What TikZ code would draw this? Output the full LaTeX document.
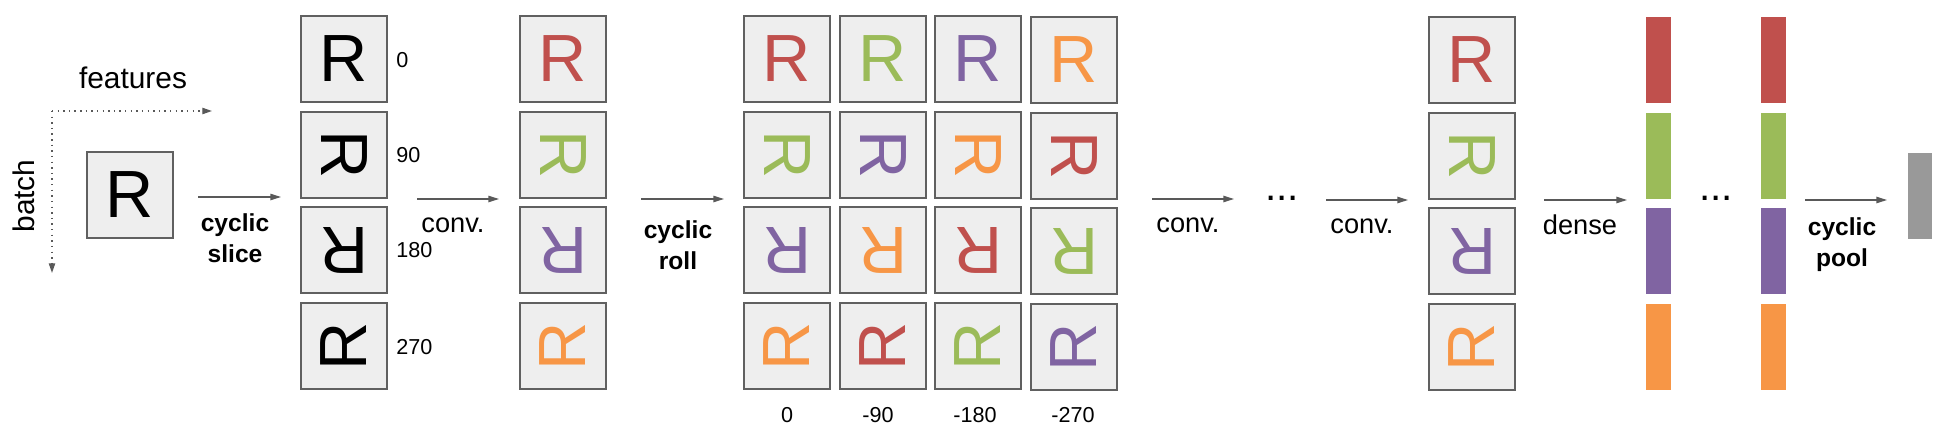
\documentclass[tikz,border=0pt]{standalone}
\usepackage{fontspec}
\setmainfont{Liberation Sans}
\usetikzlibrary{arrows.meta}

\definecolor{rred}{HTML}{C0504D}
\definecolor{rgreen}{HTML}{9BBB59}
\definecolor{rpurple}{HTML}{8064A2}
\definecolor{rorange}{HTML}{F79646}
\definecolor{tilefill}{HTML}{EEEEEE}
\definecolor{tileline}{HTML}{606060}
\definecolor{arrowgray}{HTML}{595959}
\definecolor{poolgray}{HTML}{999999}

\tikzset{
  tile/.style={draw=tileline, fill=tilefill, line width=0.75pt, minimum size=1.72cm, inner sep=0pt, font=\fontsize{38}{38}\selectfont},
  bar/.style={minimum width=0.5cm, minimum height=1.74cm, inner sep=0pt},
  flow/.style={draw=arrowgray, line width=0.7pt, -{Triangle[length=6pt,width=3.6pt]}},
  dimarrow/.style={draw=arrowgray, line width=0.75pt, dash pattern=on 0.8pt off 2.4pt, -{Triangle[length=5.5pt,width=3.6pt]}},
  lbl/.style={inner sep=0pt, font=\fontsize{15.5}{18}\selectfont},
  blbl/.style={inner sep=0pt, align=center, font=\fontsize{14}{18}\selectfont\bfseries},
  anglbl/.style={inner sep=0pt, font=\fontsize{12.3}{14}\selectfont},
}

\begin{document}
\begin{tikzpicture}[x=0.02cm, y=-0.02cm]
    \useasboundingbox (0,0) rectangle (1944,436);

    % input and its axes
    \coordinate (origin) at (52,111);
    \coordinate (featend) at (212,111);
    \coordinate (batchend) at (52,273);
    \draw[dimarrow] (origin) -- (featend);
    \draw[dimarrow] (origin) -- (batchend);
    \node[lbl, font=\fontsize{17}{18}\selectfont] (features) at (133,78) {features};
    \node[lbl, font=\fontsize{17}{18}\selectfont, rotate=90] (batch) at (24,196) {batch};
    \node[tile] (in) at (130,195) {R};

    % cyclic slice
    \node[tile] (s0) at (344,59) {R};
    \node[tile, rotate=-90] (s1) at (344,155) {R};
    \node[tile, rotate=180] (s2) at (344,250) {R};
    \node[tile, rotate=90] (s3) at (344,346) {R};
    \node[anglbl, anchor=west] (a0) at (396,60) {0};
    \node[anglbl, anchor=west] (a1) at (396,155) {90};
    \node[anglbl, anchor=west] (a2) at (396,250) {180};
    \node[anglbl, anchor=west] (a3) at (396,347) {270};

    % first conv.
    \node[tile, text=rred] (v0) at (563,59) {R};
    \node[tile, text=rgreen, rotate=-90] (v1) at (563,155) {R};
    \node[tile, text=rpurple, rotate=180] (v2) at (563,250) {R};
    \node[tile, text=rorange, rotate=90] (v3) at (563,346) {R};

    % cyclic roll
    \node[tile, text=rred] (g00) at (787,59) {R};
    \node[tile, text=rgreen, rotate=-90] (g10) at (787,155) {R};
    \node[tile, text=rpurple, rotate=180] (g20) at (787,250) {R};
    \node[tile, text=rorange, rotate=90] (g30) at (787,346) {R};

    \node[tile, text=rgreen] (g01) at (883,59) {R};
    \node[tile, text=rpurple, rotate=-90] (g11) at (883,155) {R};
    \node[tile, text=rorange, rotate=180] (g21) at (883,250) {R};
    \node[tile, text=rred, rotate=90] (g31) at (883,346) {R};

    \node[tile, text=rpurple] (g02) at (978,59) {R};
    \node[tile, text=rorange, rotate=-90] (g12) at (978,155) {R};
    \node[tile, text=rred, rotate=180] (g22) at (978,250) {R};
    \node[tile, text=rgreen, rotate=90] (g32) at (978,346) {R};

    \node[tile, text=rorange] (g03) at (1074,60) {R};
    \node[tile, text=rred, rotate=-90] (g13) at (1074,156) {R};
    \node[tile, text=rgreen, rotate=180] (g23) at (1074,251) {R};
    \node[tile, text=rpurple, rotate=90] (g33) at (1074,347) {R};

    \node[anglbl] (r0) at (787,415) {0};
    \node[anglbl] (r1) at (878,415) {-90};
    \node[anglbl] (r2) at (975,415) {-180};
    \node[anglbl] (r3) at (1073,415) {-270};

    % last conv.
    \node[tile, text=rred] (o0) at (1472,60) {R};
    \node[tile, text=rgreen, rotate=-90] (o1) at (1472,156) {R};
    \node[tile, text=rpurple, rotate=180] (o2) at (1472,251) {R};
    \node[tile, text=rorange, rotate=90] (o3) at (1472,347) {R};

    % dense
    \node[bar, fill=rred] (d0) at (1658,60) {};
    \node[bar, fill=rgreen] (d1) at (1658,156) {};
    \node[bar, fill=rpurple] (d2) at (1658,251) {};
    \node[bar, fill=rorange] (d3) at (1658,347) {};
    \node[bar, fill=rred] (e0) at (1773,60) {};
    \node[bar, fill=rgreen] (e1) at (1773,156) {};
    \node[bar, fill=rpurple] (e2) at (1773,251) {};
    \node[bar, fill=rorange] (e3) at (1773,347) {};

    % cyclic pool
    \node[bar, fill=poolgray, minimum width=0.48cm, minimum height=1.72cm] (pool) at (1920,196) {};

    \node[lbl, font=\fontsize{23}{24}\selectfont] (dotsA) at (1282,198) {...};
    \node[lbl, font=\fontsize{23}{24}\selectfont] (dotsB) at (1716,198) {...};

    % arrows
    \coordinate (sliceA) at (198,197);
    \coordinate (sliceB) at (281,197);
    \coordinate (convA) at (417,199);
    \coordinate (convB) at (499,199);
    \coordinate (rollA) at (641,199);
    \coordinate (rollB) at (724,199);
    \coordinate (conv2A) at (1152,199);
    \coordinate (conv2B) at (1234,199);
    \coordinate (conv3A) at (1326,200);
    \coordinate (conv3B) at (1408,200);
    \coordinate (denseA) at (1544,200);
    \coordinate (denseB) at (1627,200);
    \coordinate (poolA) at (1805,200);
    \coordinate (poolB) at (1887,200);
    \draw[flow] (sliceA) -- (sliceB);
    \draw[flow] (convA) -- (convB);
    \draw[flow] (rollA) -- (rollB);
    \draw[flow] (conv2A) -- (conv2B);
    \draw[flow] (conv3A) -- (conv3B);
    \draw[flow] (denseA) -- (denseB);
    \draw[flow] (poolA) -- (poolB);

    \node[blbl, anchor=north] (slicetxt) at (235,213) {cyclic\\slice};
    \node[lbl, anchor=base] (convtxt) at (453,232) {conv.};
    \node[blbl, anchor=north] (rolltxt) at (678,220) {cyclic\\roll};
    \node[lbl, anchor=base] (conv2txt) at (1188,232) {conv.};
    \node[lbl, anchor=base] (conv3txt) at (1362,233) {conv.};
    \node[lbl, anchor=base] (densetxt) at (1580,234) {dense};
    \node[blbl, anchor=north] (pooltxt) at (1842,217) {cyclic\\pool};
\end{tikzpicture}
\end{document}
